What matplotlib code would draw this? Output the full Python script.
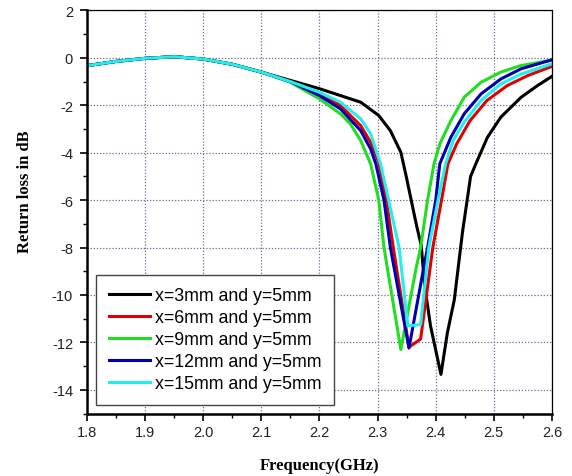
import matplotlib
matplotlib.use('Agg')
import matplotlib.pyplot as plt
from matplotlib.ticker import MultipleLocator

plt.rcParams['axes.unicode_minus'] = False

# shared low-frequency part (all five curves overlap here)
f_common = [1.80, 1.85, 1.90, 1.95, 2.00, 2.05, 2.10]
db_common = [-0.33, -0.15, -0.02, 0.05, -0.05, -0.27, -0.60]

f_x3 = [2.15, 2.20, 2.236, 2.271, 2.302, 2.322, 2.34, 2.349, 2.367, 2.375, 2.381, 2.391,
        2.409, 2.42, 2.432, 2.446, 2.46, 2.469, 2.489, 2.512, 2.547, 2.575, 2.60]
db_x3 = [-0.95, -1.30, -1.59, -1.87, -2.43, -3.07, -3.98, -4.97, -7.07, -7.90, -9.60, -11.30,
         -13.35, -11.60, -10.20, -7.36, -5.00, -4.47, -3.35, -2.50, -1.66, -1.17, -0.78]

f_x6 = [2.15, 2.20, 2.236, 2.271, 2.288, 2.302, 2.315, 2.327, 2.354, 2.374, 2.395, 2.41,
        2.421, 2.436, 2.459, 2.488, 2.523, 2.558, 2.60]
db_x6 = [-1.00, -1.52, -2.01, -2.86, -3.56, -4.40, -6.00, -8.00, -12.20, -11.86, -8.00, -6.00,
         -4.47, -3.63, -2.65, -1.80, -1.17, -0.75, -0.36]

f_x9 = [2.15, 2.20, 2.236, 2.253, 2.271, 2.288, 2.302, 2.311, 2.317, 2.340, 2.366, 2.374,
        2.386, 2.397, 2.407, 2.426, 2.449, 2.478, 2.512, 2.547, 2.60]
db_x9 = [-1.03, -1.73, -2.36, -2.78, -3.49, -4.47, -6.00, -8.00, -8.90, -12.30, -8.90, -8.00,
         -6.00, -4.47, -3.63, -2.65, -1.66, -1.03, -0.60, -0.32, -0.10]

f_x12 = [2.15, 2.20, 2.236, 2.271, 2.288, 2.297, 2.311, 2.322, 2.354, 2.379, 2.386, 2.40,
         2.407, 2.426, 2.449, 2.478, 2.512, 2.547, 2.60]
db_x12 = [-1.00, -1.59, -2.15, -3.07, -3.84, -4.47, -6.00, -8.00, -12.24, -8.90, -8.00, -6.00,
          -4.47, -3.35, -2.36, -1.52, -0.89, -0.46, -0.08]

f_x15 = [2.15, 2.20, 2.236, 2.271, 2.288, 2.305, 2.319, 2.337, 2.352, 2.374, 2.388, 2.404,
         2.417, 2.43, 2.449, 2.478, 2.512, 2.547, 2.60]
db_x15 = [-1.00, -1.45, -1.87, -2.57, -3.20, -4.47, -6.00, -8.00, -11.30, -11.25, -8.00, -6.00,
          -4.47, -3.49, -2.71, -1.80, -1.10, -0.68, -0.25]

labels = ['x=3mm and y=5mm', 'x=6mm and y=5mm', 'x=9mm and y=5mm',
          'x=12mm and y=5mm', 'x=15mm and y=5mm']
colors = ['#000000', '#e00000', '#22dd22', '#0000b0', '#22eeee']
x_ticks = [1.8, 1.9, 2.0, 2.1, 2.2, 2.3, 2.4, 2.5, 2.6]
y_ticks = [2, 0, -2, -4, -6, -8, -10, -12, -14]

series = [(f_x3, db_x3), (f_x6, db_x6), (f_x9, db_x9), (f_x12, db_x12), (f_x15, db_x15)]

fig = plt.figure(figsize=(5.72, 4.77), dpi=100)
ax = fig.add_axes([0.152, 0.131, 0.813, 0.845])

for (f, db), lab, col in zip(series, labels, colors):
    ax.plot(f_common + f, db_common + db, color=col, lw=2.2, label=lab)

ax.set_xlim(1.8, 2.6)
ax.set_ylim(-15, 2)
ax.set_xticks(x_ticks)
ax.set_xticklabels([f'{v:.1f}' for v in x_ticks])
ax.set_yticks(y_ticks)
ax.xaxis.set_minor_locator(MultipleLocator(0.05))
ax.yaxis.set_minor_locator(MultipleLocator(1))
ax.tick_params(which='major', direction='out', length=5, width=1.2, labelsize=10.5,
               labelcolor='#222222')
ax.tick_params(axis='y', which='major', pad=5)
ax.tick_params(which='minor', direction='out', length=3, width=1)
for t in ax.get_xticklabels() + ax.get_yticklabels():
    t.set_family('Liberation Sans')

ax.grid(True, which='major', linestyle=(0, (1, 1.5)), color='#6c6c9c', lw=0.9)
ax.set_axisbelow(True)

for s in ['left', 'bottom']:
    ax.spines[s].set_linewidth(1.8)
for s in ['top', 'right']:
    ax.spines[s].set_linewidth(0.9)

ax.set_xlabel('Frequency(GHz)', family='Liberation Serif', fontweight='bold', fontsize=12)
ax.set_ylabel('Return loss in dB', family='Liberation Serif', fontweight='bold', fontsize=12)
ax.xaxis.set_label_coords(0.5, -0.108)
ax.yaxis.set_label_coords(-0.116, 0.552)

leg = ax.legend(loc='lower left', bbox_to_anchor=(0.02, 0.022),
                prop={'family': 'Liberation Sans', 'size': 12.8},
                handlelength=2.35, handletextpad=0.25, labelspacing=0.28,
                borderpad=0.7, borderaxespad=0, fancybox=False, framealpha=1)
leg.get_frame().set_edgecolor('#444444')
leg.get_frame().set_linewidth(1.0)

plt.savefig('out.png', dpi=100)
